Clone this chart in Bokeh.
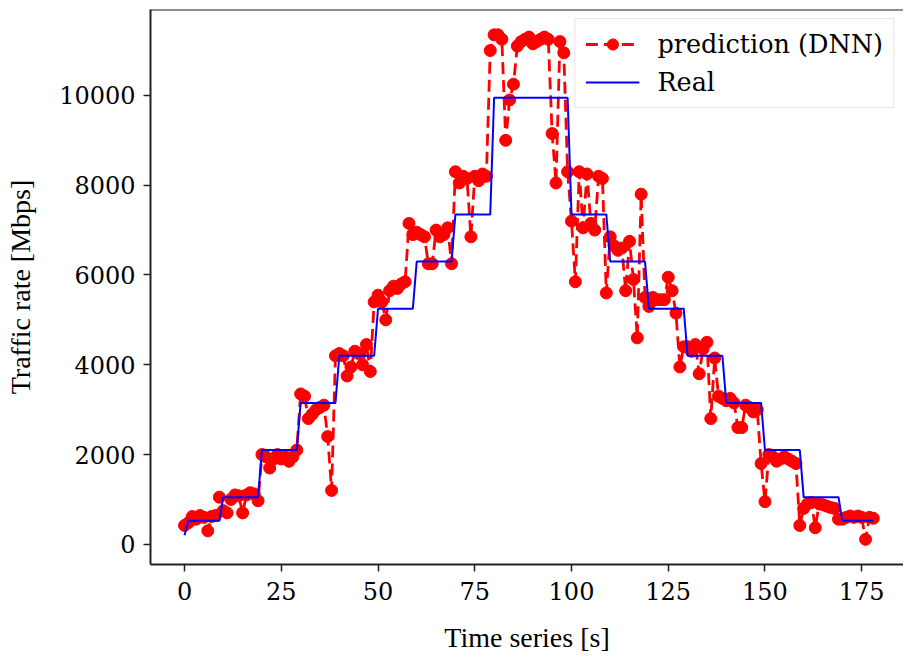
from bokeh.plotting import figure
from bokeh.models import Range1d, FixedTicker, Span, Legend, LegendItem
from bokeh.embed import file_html
from bokeh.resources import INLINE

prediction = [
    420, 480, 620, 560, 640, 600, 300, 620, 640, 1050,
    750, 700, 1000, 1100, 1080, 700, 1100, 1150, 1120, 970,
    2000, 1950, 1700, 1900, 2000, 1900, 1950, 1850, 1950, 2100,
    3350, 3300, 2800, 2900, 3000, 3050, 3100, 2400, 1200, 4200,
    4250, 4200, 3750, 3950, 4300, 4250, 4000, 4450, 3850, 5400,
    5550, 5400, 5000, 5650, 5750, 5700, 5800, 5850, 7150, 6900,
    6950, 6900, 6850, 6250, 6250, 7000, 6850, 6900, 7050, 6250,
    8300, 8050, 8200, 8150, 6850, 8200, 8100, 8250, 8200, 11000,
    11350, 11350, 11250, 9000, 9900, 10250, 11100, 11200, 11250, 11300,
    11150, 11200, 11250, 11300, 11250, 9150, 8050, 11200, 10950, 8300,
    7200, 5850, 8300, 7050, 8250, 7150, 7000, 8200, 8150, 5600,
    6850, 6650, 6550, 6600, 5650, 6750, 5900, 4600, 7800, 5500,
    5300, 5500, 5450, 5450, 5450, 5950, 5650, 5150, 3950, 4400,
    4400, 4300, 4450, 3800, 4350, 4500, 2800, 4150, 3300, 3250,
    3200, 3250, 3150, 2600, 2600, 3100, 3050, 2950, 3000, 1800,
    950, 2000, 1950, 1850, 1900, 1950, 1900, 1850, 1800, 420,
    800, 900, 930, 370, 900, 880, 850, 820, 800, 560,
    560, 600, 630, 600, 630, 600, 110, 600, 580,
]

real = [
    200, 525, 525, 525, 525, 525, 525, 525, 525, 525,
    1050, 1050, 1050, 1050, 1050, 1050, 1050, 1050, 1050, 1050,
    2100, 2100, 2100, 2100, 2100, 2100, 2100, 2100, 2100, 2100,
    3150, 3150, 3150, 3150, 3150, 3150, 3150, 3150, 3150, 3150,
    4200, 4200, 4200, 4200, 4200, 4200, 4200, 4200, 4200, 4200,
    5250, 5250, 5250, 5250, 5250, 5250, 5250, 5250, 5250, 5250,
    6300, 6300, 6300, 6300, 6300, 6300, 6300, 6300, 6300, 6300,
    7350, 7350, 7350, 7350, 7350, 7350, 7350, 7350, 7350, 7350,
    9950, 9950, 9950, 9950, 9950, 9950, 9950, 9950, 9950, 9950,
    9950, 9950, 9950, 9950, 9950, 9950, 9950, 9950, 9950, 9950,
    7350, 7350, 7350, 7350, 7350, 7350, 7350, 7350, 7350, 7350,
    6300, 6300, 6300, 6300, 6300, 6300, 6300, 6300, 6300, 6300,
    5250, 5250, 5250, 5250, 5250, 5250, 5250, 5250, 5250, 5250,
    4200, 4200, 4200, 4200, 4200, 4200, 4200, 4200, 4200, 4200,
    3150, 3150, 3150, 3150, 3150, 3150, 3150, 3150, 3150, 3150,
    2100, 2100, 2100, 2100, 2100, 2100, 2100, 2100, 2100, 2100,
    1050, 1050, 1050, 1050, 1050, 1050, 1050, 1050, 1050, 1050,
    525, 525, 525, 525, 525, 525, 525, 525, 525,
]

time_s = list(range(len(real)))

x_ticks = [0, 25, 50, 75, 100, 125, 150, 175]
y_ticks = [0, 2000, 4000, 6000, 8000, 10000]

Y_TOP = 11915

p = figure(
    width=903, height=657,
    output_backend="svg", toolbar_location=None,
    x_range=Range1d(-8.8, 185.8), y_range=Range1d(-450, Y_TOP),
    min_border_left=150, min_border_top=9, min_border_right=0, min_border_bottom=93,
)
p.outline_line_color = None
p.xgrid.visible = False
p.ygrid.visible = False
p.background_fill_color = "white"

pl = p.line(time_s, prediction, line_color="red", line_width=2.8, line_dash="12 6")
ps = p.scatter(time_s, prediction, size=12, fill_color="red", line_color="red")
rl = p.line(time_s, real, line_color="blue", line_width=2)

p.add_layout(Span(location=Y_TOP, dimension="width", line_color="#222222", line_width=2))

for ax in (p.xaxis[0], p.yaxis[0]):
    ax.axis_line_color = "#222222"
    ax.axis_line_width = 2
    ax.major_tick_line_color = "#222222"
    ax.major_tick_line_width = 1.5
    ax.major_tick_out = 7
    ax.major_tick_in = 0
    ax.minor_tick_line_color = None
    ax.major_label_text_font = "DejaVu Serif"
    ax.major_label_text_font_size = "24px"
    ax.major_label_text_color = "black"
    ax.axis_label_text_font = "Liberation Serif"
    ax.axis_label_text_font_size = "28px"
    ax.axis_label_text_font_style = "normal"
    ax.axis_label_text_color = "black"

p.xaxis.ticker = FixedTicker(ticks=x_ticks)
p.yaxis.ticker = FixedTicker(ticks=y_ticks)
p.xaxis.major_label_standoff = 10
p.yaxis.major_label_standoff = 8
p.xaxis.axis_label = "Time series [s]"
p.yaxis.axis_label = "Traffic rate [Mbps]"
p.xaxis.axis_label_standoff = 19
p.yaxis.axis_label_standoff = 20

legend = Legend(
    items=[
        LegendItem(label="prediction (DNN)", renderers=[pl, ps]),
        LegendItem(label="Real", renderers=[rl]),
    ],
    location="top_right",
    margin=9,
    padding=10,
    spacing=8,
    glyph_width=54,
    glyph_height=28,
    label_standoff=18,
    label_text_font="DejaVu Serif",
    label_text_font_size="25.5px",
    label_text_color="black",
    border_line_color="#cccccc",
    border_line_width=1.5,
    background_fill_alpha=0.85,
)
p.add_layout(legend)

open("out.html", "w").write(file_html(p, INLINE))
